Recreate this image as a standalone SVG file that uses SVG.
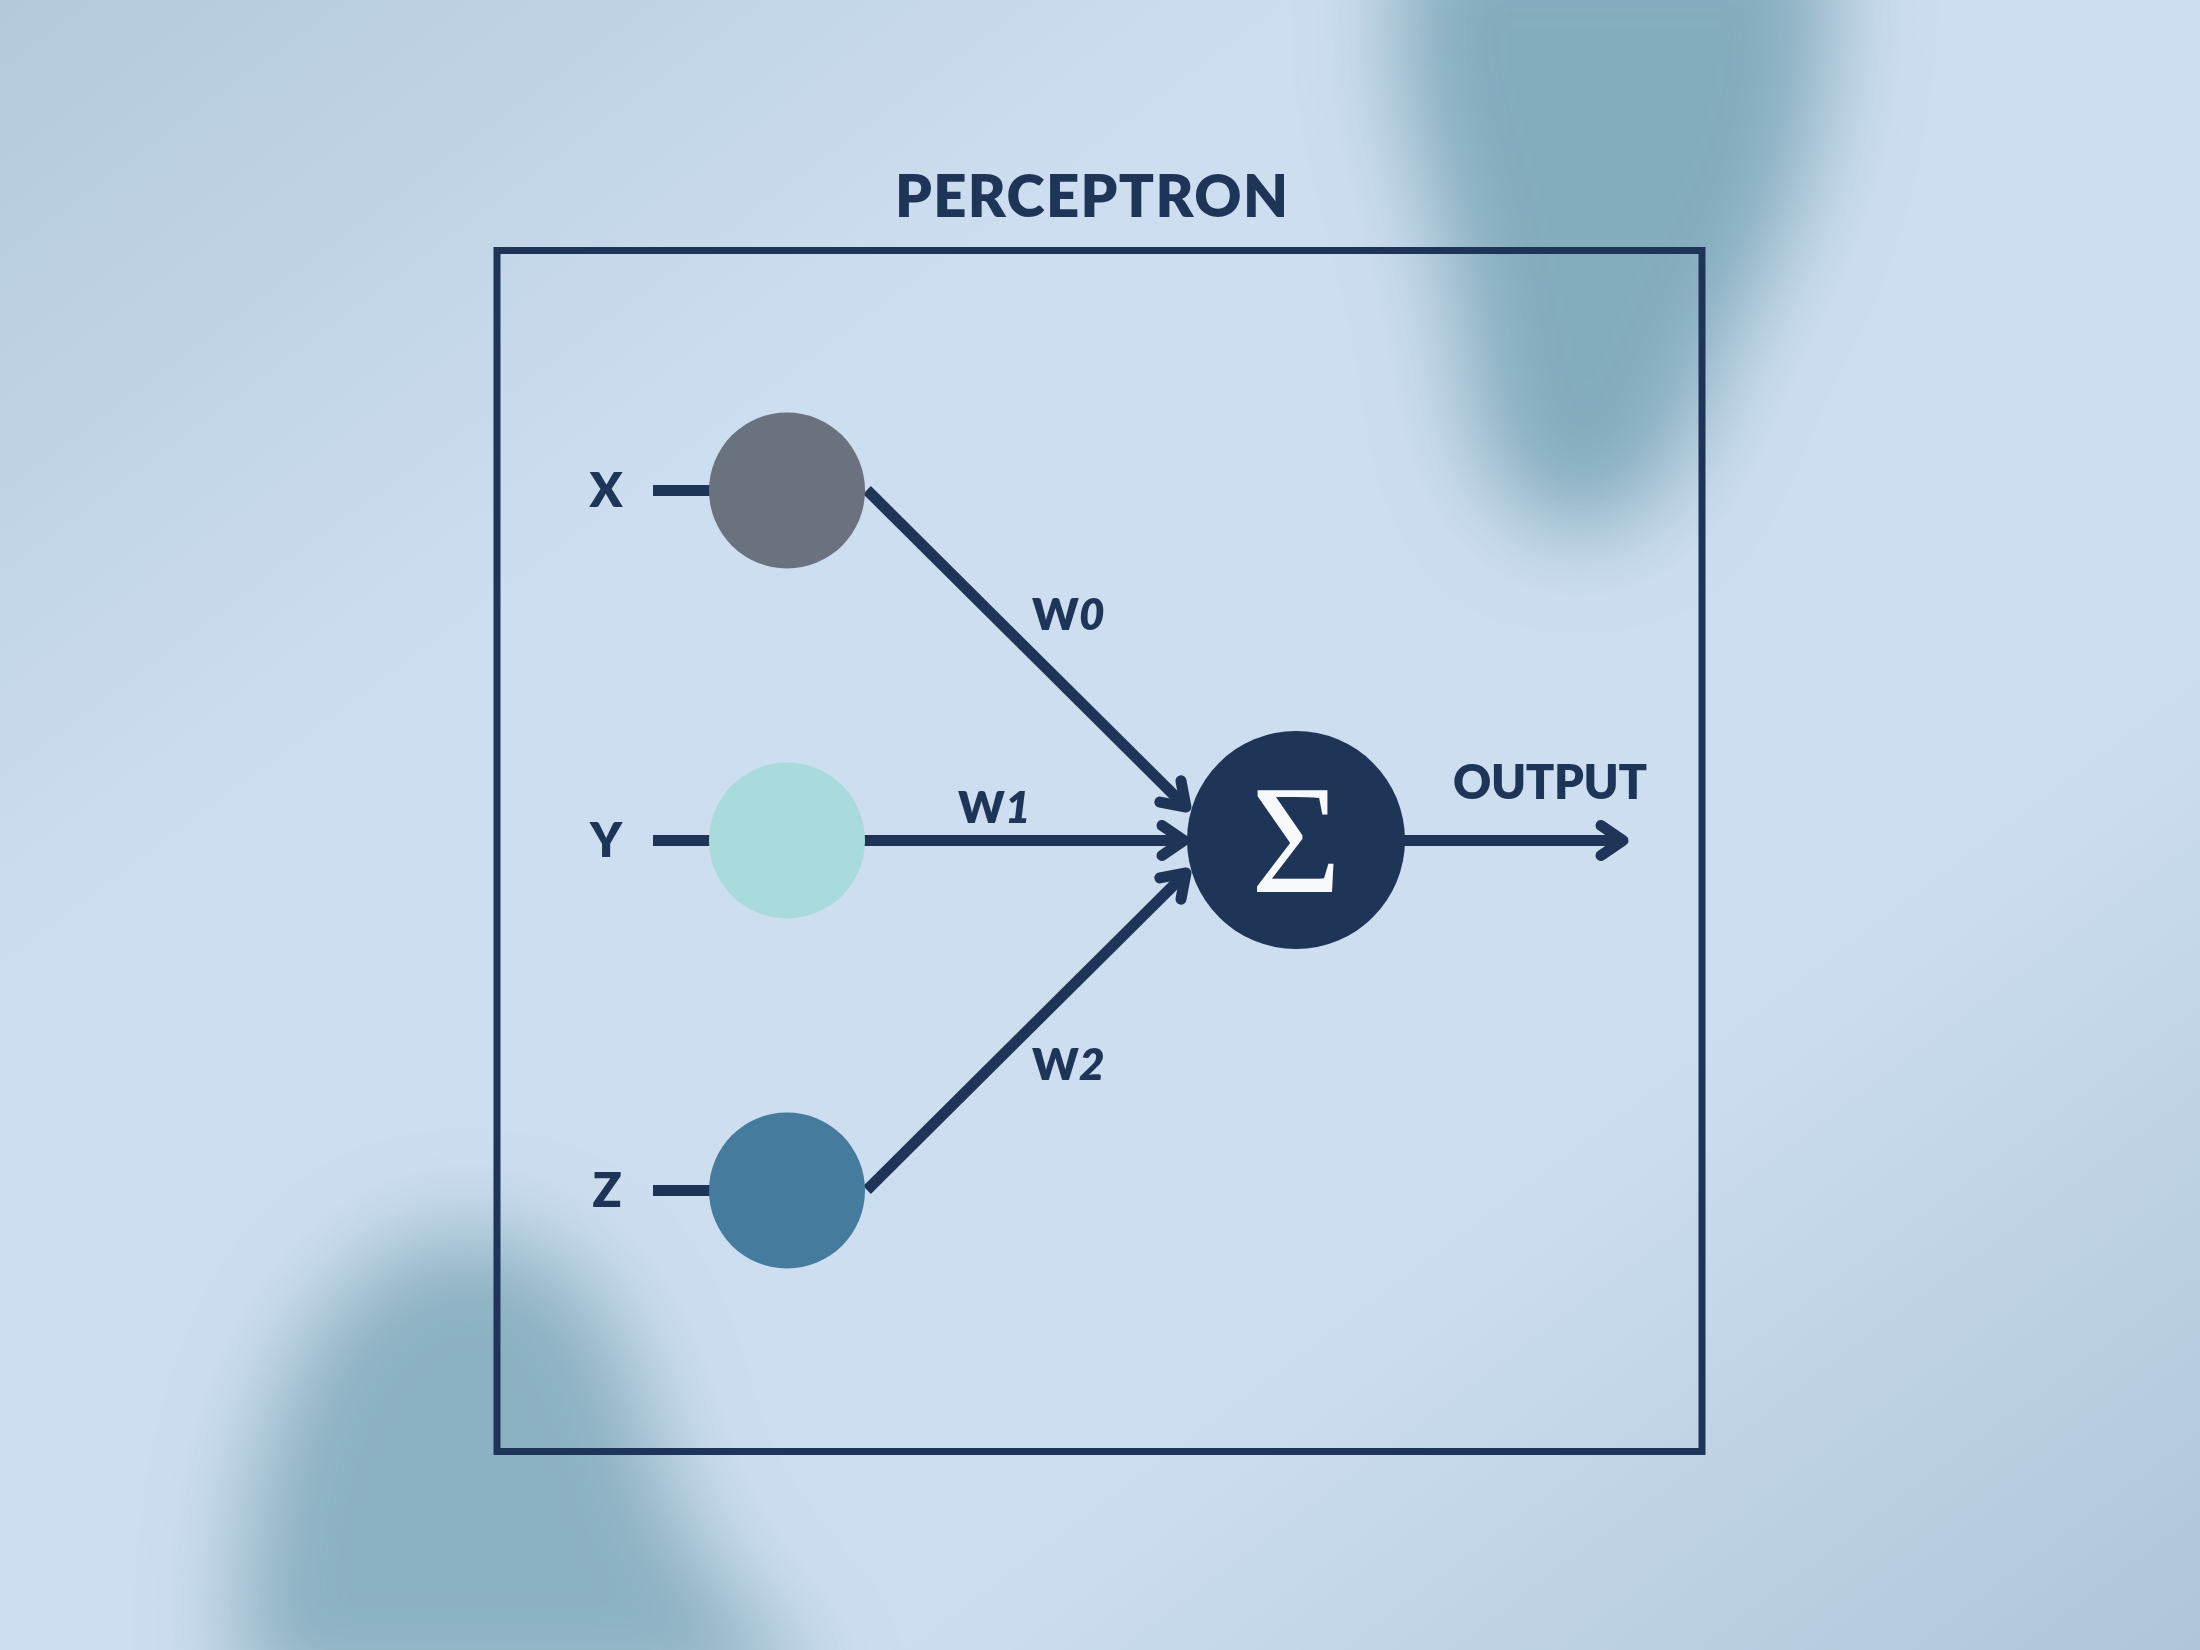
<svg xmlns="http://www.w3.org/2000/svg" width="2200" height="1650" viewBox="0 0 2200 1650">
<defs>
<style>
.lbl{font-family:"Lato","Liberation Sans",sans-serif;font-weight:800;fill:#1e3557}
.ln{stroke:#1e3557;stroke-width:11;fill:none}
</style>
<linearGradient id="bg" x1="0" y1="0" x2="1" y2="1">
<stop offset="0" stop-color="#b4c9dc"/>
<stop offset="0.3" stop-color="#cddef0"/>
<stop offset="0.7" stop-color="#cddef0"/>
<stop offset="1" stop-color="#afc5da"/>
</linearGradient>
<filter id="blur" x="-50%" y="-50%" width="200%" height="200%"><feGaussianBlur stdDeviation="45"/></filter>
<marker id="arr" markerUnits="userSpaceOnUse" markerWidth="80" markerHeight="80" viewBox="-40 -40 80 80" refX="0" refY="0" orient="auto" overflow="visible">
<path d="M-22 -15 L0 0 L-22 15" fill="none" stroke="#1e3557" stroke-width="11" stroke-linecap="round" stroke-linejoin="round"/>
</marker>
</defs>
<rect width="2200" height="1650" fill="url(#bg)"/>
<g filter="url(#blur)">
<path d="M1400 -80 L1830 -80 C1840 100 1800 220 1740 320 C1700 400 1690 480 1620 520 C1540 560 1480 480 1470 400 C1460 300 1430 200 1400 80 Z" fill="#7ba6b7" opacity="0.9"/>
<path d="M240 1700 C235 1560 250 1420 320 1320 C380 1240 460 1210 540 1250 C620 1300 640 1380 660 1460 C690 1560 760 1620 820 1700 Z" fill="#80a9ba" opacity="0.85"/>
</g>
<text class="lbl" x="895" y="217" font-size="58" textLength="393" lengthAdjust="spacing">PERCEPTRON</text>
<rect x="497" y="250.5" width="1205" height="1201" fill="none" stroke="#1e3557" stroke-width="7"/>
<g id="connectors">
<line class="ln" x1="653" y1="490.5" x2="712" y2="490.5"/>
<line class="ln" x1="653" y1="840.5" x2="712" y2="840.5"/>
<line class="ln" x1="653" y1="1190.5" x2="712" y2="1190.5"/>
<line class="ln" x1="867" y1="490" x2="1186" y2="807" marker-end="url(#arr)"/>
<line class="ln" x1="862" y1="840.5" x2="1184" y2="840.5" marker-end="url(#arr)"/>
<line class="ln" x1="867" y1="1190" x2="1186" y2="873" marker-end="url(#arr)"/>
<line class="ln" x1="1400" y1="840.5" x2="1623" y2="840.5" marker-end="url(#arr)"/>
</g>
<g id="node-x">
<circle cx="787" cy="490.5" r="78" fill="#6b727f"/>
<text class="lbl" x="606" y="507" font-size="48" text-anchor="middle">X</text>
</g>
<g id="node-y">
<circle cx="787" cy="840.5" r="78" fill="#a9dbdc"/>
<text class="lbl" x="606" y="857" font-size="48" text-anchor="middle">Y</text>
</g>
<g id="node-z">
<circle cx="787" cy="1190.5" r="78" fill="#457b9d"/>
<text class="lbl" x="607" y="1207" font-size="48" text-anchor="middle">Z</text>
</g>
<g id="node-sum">
<circle cx="1296" cy="840" r="109" fill="#1e3557"/>
<text x="1296" y="892" font-family="'Liberation Serif', serif" font-size="155" fill="#f7f9fc" text-anchor="middle">Σ</text>
</g>
<g id="labels">
<text class="lbl" x="1032" y="630" font-size="44">W<tspan font-style="italic">0</tspan></text>
<text class="lbl" x="958" y="823" font-size="44">W<tspan font-style="italic">1</tspan></text>
<text class="lbl" x="1032" y="1080" font-size="44">W<tspan font-style="italic">2</tspan></text>
<text class="lbl" x="1453" y="799" font-size="47" textLength="194" lengthAdjust="spacing">OUTPUT</text>
</g>
</svg>
